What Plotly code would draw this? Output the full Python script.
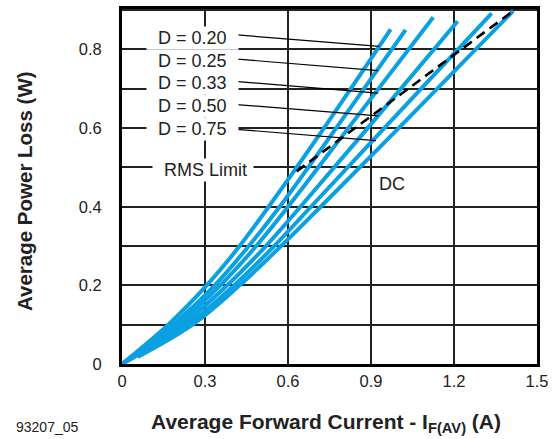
import plotly.graph_objects as go

# ---- data ----
d020_x = [0, 0.167, 0.306, 0.425, 0.530, 0.730, 0.971]
d020_y = [0, 0.10, 0.20, 0.30, 0.40, 0.60, 0.851]
d025_x = [0, 0.185, 0.335, 0.458, 0.570, 0.774, 1.025]
d025_y = [0, 0.10, 0.20, 0.30, 0.40, 0.60, 0.850]
d033_x = [0, 0.200, 0.355, 0.485, 0.600, 0.818, 1.125]
d033_y = [0, 0.10, 0.20, 0.30, 0.40, 0.60, 0.882]
d050_x = [0, 0.218, 0.380, 0.520, 0.645, 0.888, 1.213]
d050_y = [0, 0.10, 0.20, 0.30, 0.40, 0.60, 0.872]
d075_x = [0, 0.237, 0.405, 0.550, 0.683, 0.948, 1.336]
d075_y = [0, 0.10, 0.20, 0.30, 0.40, 0.60, 0.892]
dc_x = [0.057, 0.255, 0.425, 0.575, 0.718, 1.000, 1.414]
dc_y = [0.018, 0.10, 0.20, 0.30, 0.40, 0.60, 0.898]
rms_x = [0.631, 1.414]
rms_y = [0.490, 0.898]

labels = ["D = 0.20", "D = 0.25", "D = 0.33", "D = 0.50", "D = 0.75"]
label_y = [0.830, 0.772, 0.714, 0.656, 0.598]
leader_start = [(0.4165, 0.837), (0.408, 0.776), (0.408, 0.719), (0.414, 0.660), (0.414, 0.597)]
leader_end = [(0.930, 0.808), (0.926, 0.746), (0.926, 0.689), (0.926, 0.631), (0.918, 0.568)]

x_ticks = [0, 0.3, 0.6, 0.9, 1.2, 1.5]
x_tick_text = ["0", "0.3", "0.6", "0.9", "1.2", "1.5"]
y_ticks = [0, 0.2, 0.4, 0.6, 0.8]
y_tick_text = ["0", "0.2", "0.4", "0.6", "0.8"]

BLUE = "#0AA0E2"
FONT = "Liberation Sans, Arial, Helvetica, sans-serif"
PAD = "&nbsp;&nbsp;"

fig = go.Figure()
for xs, ys in [(d020_x, d020_y), (d025_x, d025_y), (d033_x, d033_y),
               (d050_x, d050_y), (d075_x, d075_y), (dc_x, dc_y)]:
    fig.add_trace(go.Scatter(x=xs, y=ys, mode="lines",
                             line=dict(color=BLUE, width=4, shape="spline", smoothing=1.0),
                             showlegend=False, hoverinfo="skip"))
fig.add_trace(go.Scatter(x=rms_x, y=rms_y, mode="lines",
                         line=dict(color="black", width=2.6, dash="10px,6px"),
                         showlegend=False, hoverinfo="skip"))

shapes = []
for (x0, y0), (x1, y1) in zip(leader_start, leader_end):
    shapes.append(dict(type="line", xref="x", yref="y", x0=x0, y0=y0, x1=x1, y1=y1,
                       line=dict(color="black", width=1.2), layer="above"))

annotations = []
for t, yy in zip(labels, label_y):
    annotations.append(dict(x=0.255, y=yy, xref="x", yref="y", text=PAD + t + PAD, showarrow=False,
                            font=dict(family=FONT, size=18, color="#222"),
                            bgcolor="white", borderpad=1, xanchor="center", yanchor="middle"))
annotations.append(dict(x=0.293, y=0.494, xref="x", yref="y", text=PAD + "RMS Limit" + "&nbsp;",
                        showarrow=False,
                        font=dict(family=FONT, size=18, color="#222"),
                        bgcolor="white", borderpad=1, xanchor="center", yanchor="middle"))
annotations.append(dict(x=0.976, y=0.457, xref="x", yref="y", text="DC", showarrow=False,
                        font=dict(family=FONT, size=18, color="#222"),
                        xanchor="center", yanchor="middle"))
annotations.append(dict(x=-0.2337, y=0.4874, xref="paper", yref="paper",
                        text="<b>Average Power Loss (W)</b>", textangle=-90, showarrow=False,
                        font=dict(family=FONT, size=20.5, color="#222"),
                        xanchor="center", yanchor="middle"))
annotations.append(dict(x=0.4904, y=-0.1676, xref="paper", yref="paper",
                        text="<b>Average Forward Current - I<sub>F(AV)</sub> (A)</b>", showarrow=False,
                        font=dict(family=FONT, size=21, color="#222"),
                        xanchor="center", yanchor="middle"))
annotations.append(dict(x=-0.1807, y=-0.178, xref="paper", yref="paper",
                        text="93207_05", showarrow=False,
                        font=dict(family=FONT, size=14, color="#222"),
                        xanchor="center", yanchor="middle"))

fig.update_layout(
    width=558, height=439,
    margin=dict(l=122, r=21, t=6, b=75),
    paper_bgcolor="white", plot_bgcolor="white",
    shapes=shapes, annotations=annotations,
    xaxis=dict(range=[0, 1.5], tickvals=x_ticks, ticktext=x_tick_text,
               showgrid=True, gridcolor="#222", gridwidth=1.6,
               showline=True, linecolor="black", linewidth=3, mirror=True,
               ticks="", zeroline=False,
               tickfont=dict(family=FONT, size=16.5, color="#222")),
    yaxis=dict(range=[0, 0.903], tickvals=y_ticks, ticktext=y_tick_text,
               showgrid=True, gridcolor="#222", gridwidth=1.6,
               minor=dict(dtick=0.1, tick0=0, showgrid=True, gridcolor="#222", gridwidth=1.6),
               showline=True, linecolor="black", linewidth=3, mirror=True,
               ticks="", zeroline=False, ticklabelstandoff=14,
               tickfont=dict(family=FONT, size=16.5, color="#222")),
)

fig.write_html("out.html")
